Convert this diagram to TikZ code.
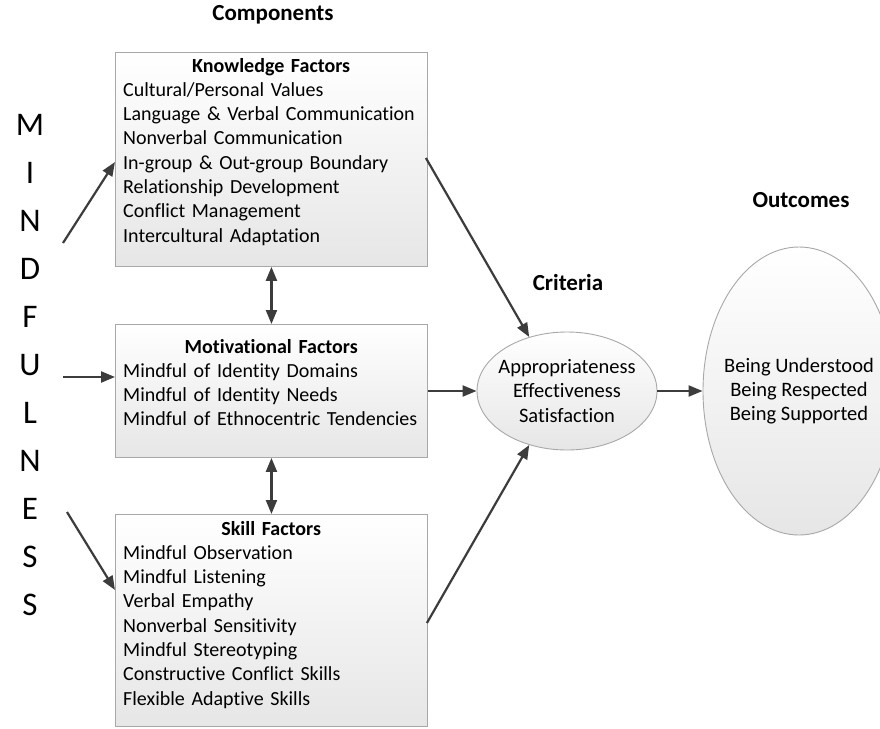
\documentclass[tikz,border=0pt]{standalone}
\usepackage{fontspec}
\setmainfont{Carlito}[Ligatures=NoCommon]
\usetikzlibrary{arrows.meta,shapes.geometric,calc}
\definecolor{arrowgray}{HTML}{3C3C3C}
\definecolor{bordergray}{HTML}{A8A8A8}
\definecolor{fillbot}{HTML}{E6E6E6}
\tikzset{
  fbox/.style={draw=bordergray, line width=0.9pt, top color=white, bottom color=fillbot, anchor=north west, inner sep=0pt},
  ftext/.style={anchor=base west, inner sep=0pt, text width=296pt, align=left, font=\fontsize{20}{24.3}\selectfont},
  ell/.style={ellipse, draw=bordergray, line width=0.9pt, top color=white, bottom color=fillbot, inner sep=0pt},
  etext/.style={inner sep=0pt, align=center, font=\fontsize{20.5}{24.2}\selectfont},
  arr/.style={draw=arrowgray, line width=2.2pt, -{Triangle[length=14pt,width=11pt]}},
  darr/.style={draw=arrowgray, line width=2.2pt, {Triangle[length=14pt,width=11pt]}-{Triangle[length=14pt,width=11pt]}},
  title/.style={font=\fontsize{23}{26}\selectfont\bfseries, inner sep=0pt},
  letter/.style={font=\fontsize{33}{33}\selectfont, inner sep=0pt}
}
\begin{document}
\begin{tikzpicture}[x=1pt,y=-1pt]
\useasboundingbox (0,0) rectangle (880,728);
\clip (0,0) rectangle (880,728);
\fill[white] (0,0) rectangle (880,728);

% titles
\node[title] (tcomp) at (273,15) {Components};
\node[title] (tcrit) at (568,283) {Criteria};
\node[title] (tout) at (801,200) {Outcomes};

% boxes
\node[fbox, minimum width=312pt, minimum height=214pt] (K) at (115,52) {};
\node[fbox, minimum width=312pt, minimum height=133pt] (Mo) at (115,324) {};
\node[fbox, minimum width=312pt, minimum height=212pt] (S) at (115,514) {};

\node[ftext] (Kt) at (123,72) {\makebox[\linewidth]{\bfseries Knowledge Factors}\\
Cultural/Personal Values\\
Language \& Verbal Communication\\
Nonverbal Communication\\
In-group \& Out-group Boundary\\
Relationship Development\\
Conflict Management\\
Intercultural Adaptation};

\node[ftext] (Mt) at (123,353) {\makebox[\linewidth]{\bfseries Motivational Factors}\\
Mindful of Identity Domains\\
Mindful of Identity Needs\\
Mindful of Ethnocentric Tendencies};

\node[ftext] (St) at (123,535) {\makebox[\linewidth]{\bfseries Skill Factors}\\
Mindful Observation\\
Mindful Listening\\
Verbal Empathy\\
Nonverbal Sensitivity\\
Mindful Stereotyping\\
Constructive Conflict Skills\\
Flexible Adaptive Skills};

% ellipses
\node[ell, minimum width=180pt, minimum height=118pt] (C) at (567,391) {};
\node[etext] (Ct) at (567,391) {Appropriateness\\Effectiveness\\Satisfaction};
\node[ell, minimum width=192pt, minimum height=288pt] (O) at (799,391) {};
\node[etext] (Ot) at (799,391) {Being Understood\\Being Respected\\Being Supported};

% MINDFULNESS
\foreach \l [count=\i from 0] in {M,I,N,D,F,U,L,N,E,S,S}{
  \node[letter] (m\i) at (30,125+48*\i) {\l};
}

% arrows from mindfulness
\coordinate (a1) at (63,243);
\coordinate (a2) at (63,377);
\coordinate (a3) at (67,512);
\draw[arr] (a1) -- ($(K.north west)+(0,110)$);
\draw[arr] (a2) -- ($(Mo.north west)+(0,53)$);
\draw[arr] (a3) -- ($(S.north west)+(0,76)$);

% double arrows
\draw[darr] (K.south) -- (Mo.north);
\draw[darr] (Mo.south) -- (S.north);

% to criteria
\draw[arr] ($(K.north east)+(-2,106)$) -- (C.125);
\draw[arr] ($(Mo.north east)+(0,67)$) -- (C.west);
\draw[arr] ($(S.north east)+(-1,109)$) -- (C.235);
\draw[arr] (C.east) -- (O.west);
\end{tikzpicture}
\end{document}
